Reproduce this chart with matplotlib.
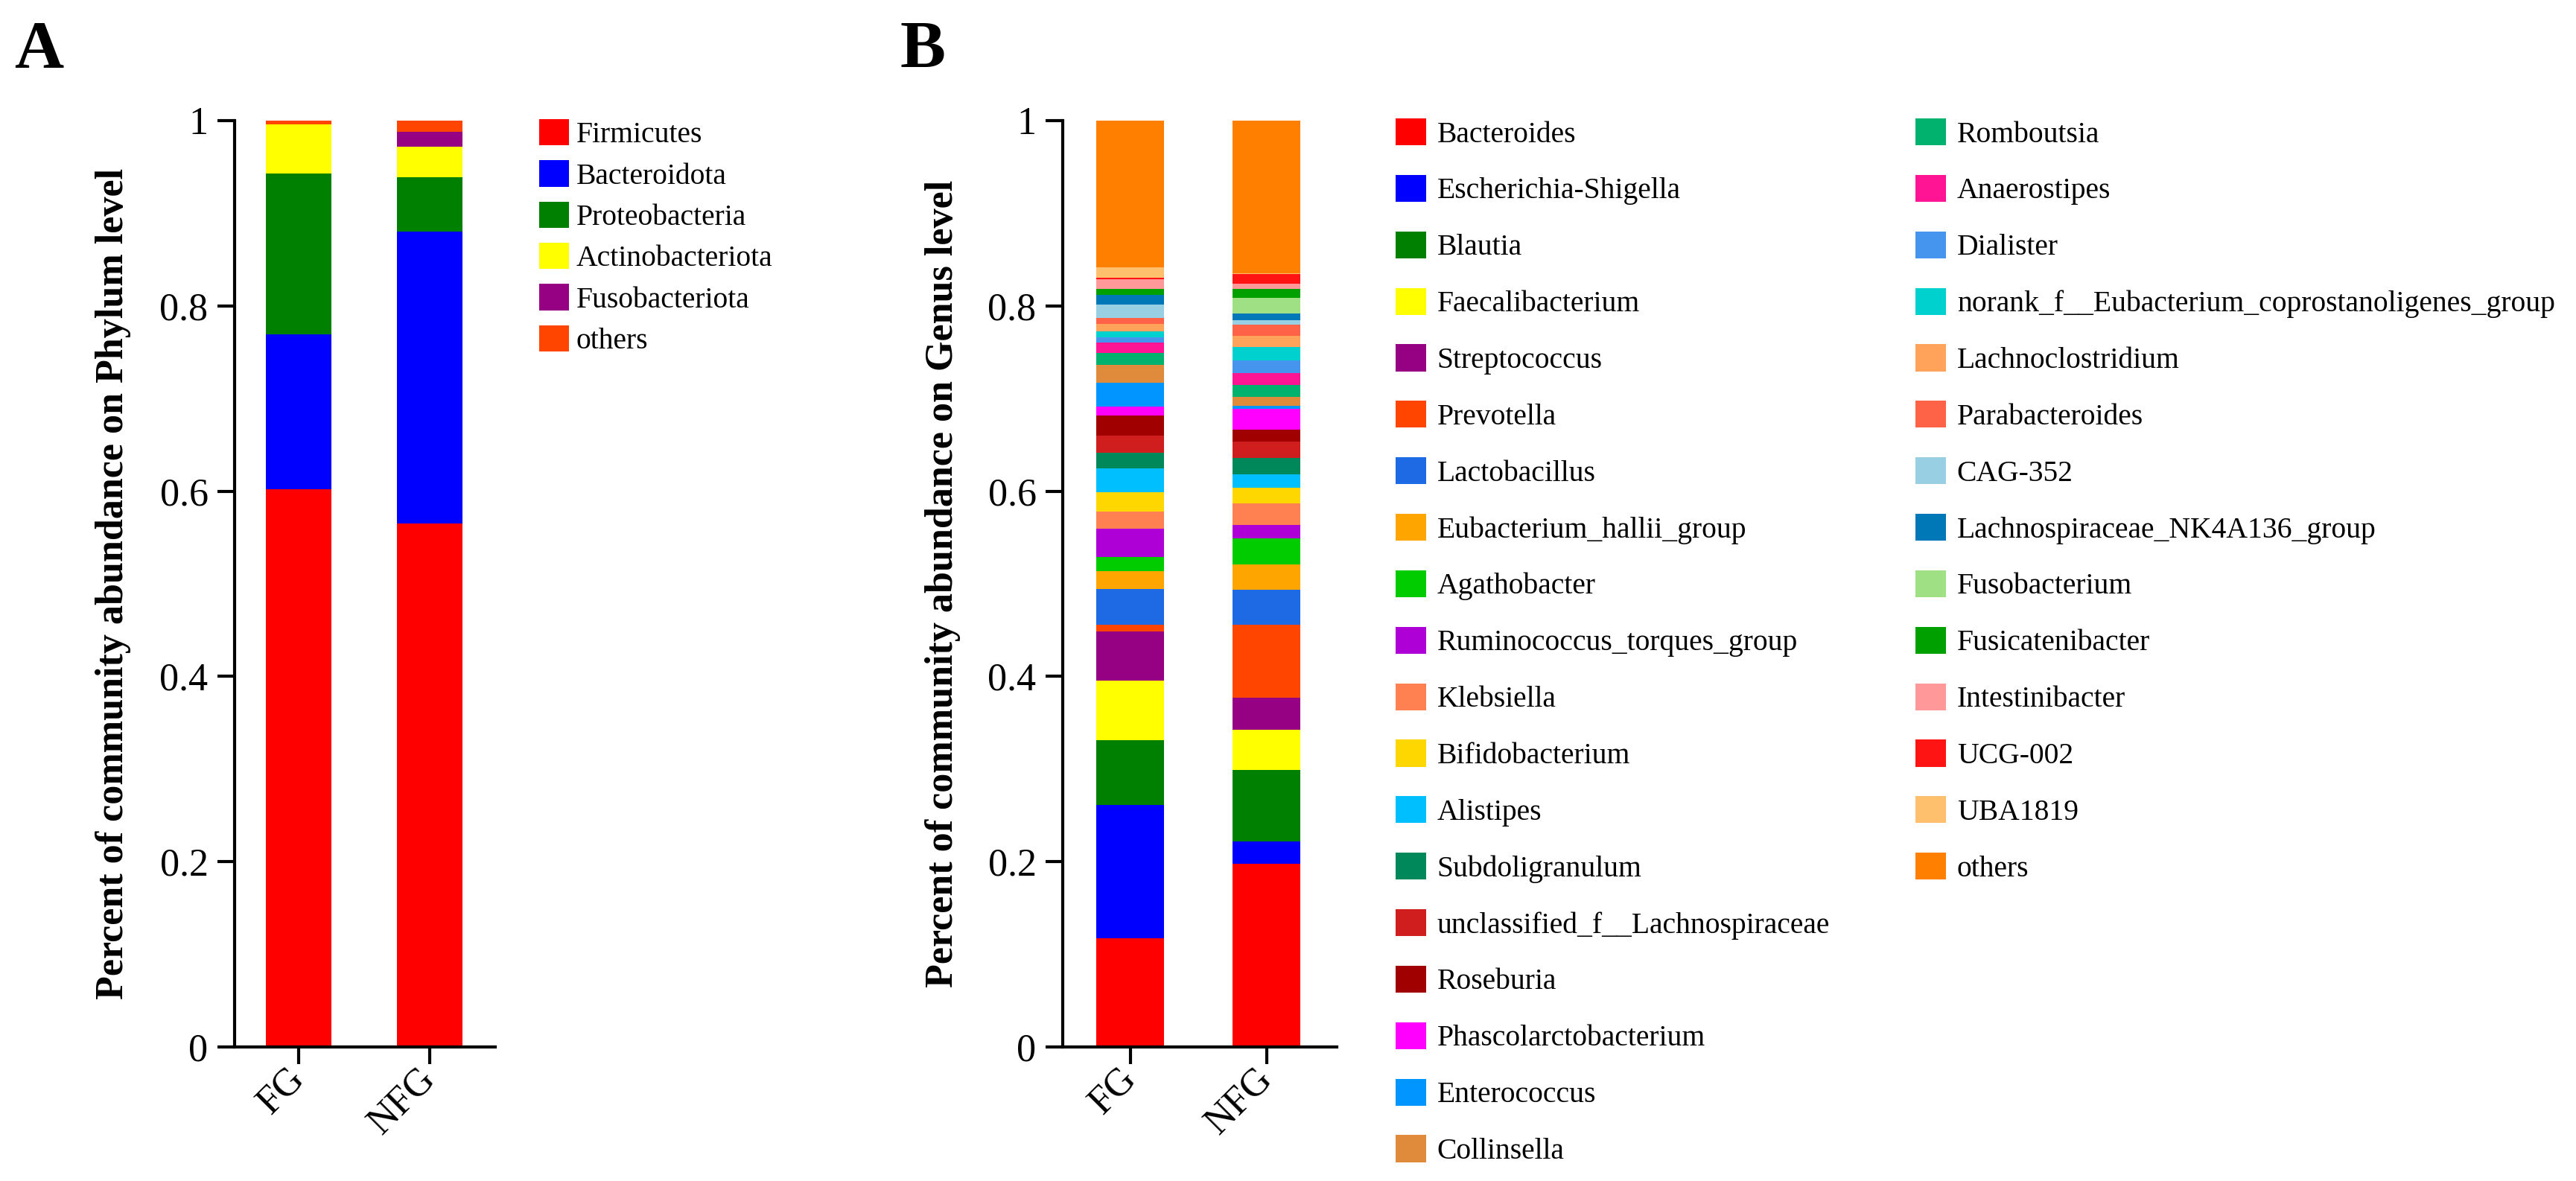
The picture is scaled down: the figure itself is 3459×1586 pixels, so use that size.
import matplotlib
matplotlib.use('Agg')
import matplotlib.pyplot as plt
from matplotlib.patches import Patch

plt.rcParams['font.family'] = 'serif'
plt.rcParams['font.serif'] = ['Liberation Serif', 'DejaVu Serif']

groups = ['FG', 'NFG']

phylum_names = ['Firmicutes', 'Bacteroidota', 'Proteobacteria', 'Actinobacteriota',
                'Fusobacteriota', 'others']
phylum_fg = [0.602, 0.167, 0.174, 0.053, 0.0, 0.004]
phylum_nfg = [0.565, 0.315, 0.059, 0.033, 0.016, 0.012]
phylum_colors = ['#FF0000', '#0000FF', '#008000', '#FFFF00', '#960082', '#FF4500']

genus_names = ['Bacteroides', 'Escherichia-Shigella', 'Blautia', 'Faecalibacterium',
               'Streptococcus', 'Prevotella', 'Lactobacillus', 'Eubacterium_hallii_group',
               'Agathobacter', 'Ruminococcus_torques_group', 'Klebsiella', 'Bifidobacterium',
               'Alistipes', 'Subdoligranulum', 'unclassified_f__Lachnospiraceae', 'Roseburia',
               'Phascolarctobacterium', 'Enterococcus', 'Collinsella',
               'Romboutsia', 'Anaerostipes', 'Dialister',
               'norank_f__Eubacterium_coprostanoligenes_group', 'Lachnoclostridium',
               'Parabacteroides', 'CAG-352', 'Lachnospiraceae_NK4A136_group', 'Fusobacterium',
               'Fusicatenibacter', 'Intestinibacter', 'UCG-002', 'UBA1819', 'others']
genus_fg = [0.117, 0.1445, 0.070, 0.064, 0.0532, 0.0072, 0.0383, 0.0195, 0.0152, 0.0303,
            0.0187, 0.0209, 0.0259, 0.0171, 0.0182, 0.0214, 0.0102, 0.0257, 0.0187,
            0.0128, 0.0115, 0.0059, 0.0062, 0.008, 0.0067, 0.0142, 0.0104, 0.0,
            0.007, 0.0104, 0.0016, 0.011, 0.1583]
genus_nfg = [0.1974, 0.0243, 0.0776, 0.0431, 0.0343, 0.0787, 0.038, 0.0275, 0.0283, 0.0144,
             0.023, 0.0174, 0.0139, 0.0182, 0.0171, 0.0134, 0.0225, 0.003, 0.0099,
             0.0128, 0.0126, 0.0139, 0.0144, 0.0118, 0.012, 0.0051, 0.007, 0.0171,
             0.0099, 0.0054, 0.0102, 0.0008, 0.1651]
genus_colors = ['#FF0000', '#0000FF', '#008000', '#FFFF00', '#960082', '#FF4500', '#1E6AE5',
                '#FFA500', '#00CC00', '#AE00D6', '#FF8050', '#FFD700', '#00BFFF', '#00885A',
                '#D01E1E', '#A00000', '#FF00FF', '#0095FF', '#E08A3C',
                '#00B26E', '#FF1493', '#4595EE', '#00D0CE', '#FFA35A', '#FF6347', '#98CFE3',
                '#0077B6', '#9FE085', '#00A000', '#FF9999', '#FF1414', '#FFC06E', '#FF8000']

W, H = 3459, 1586
fig = plt.figure(figsize=(W / 300, H / 300), dpi=300)


def stacked_panel(rect, fg, nfg, colors, xlim, ylabel, label_x):
    ax = fig.add_axes(rect)
    bottom = [0.0, 0.0]
    for a, b, c in zip(fg, nfg, colors):
        ax.bar([0, 1], [a, b], 0.5, bottom=bottom, color=c, linewidth=0)
        bottom = [bottom[0] + a, bottom[1] + b]
    ax.set_xlim(*xlim)
    ax.set_ylim(0, 1)
    for s in ['top', 'right']:
        ax.spines[s].set_visible(False)
    for s in ['left', 'bottom']:
        ax.spines[s].set_linewidth(1.0)
    ax.tick_params(direction='out', length=5.5, width=1.0, labelsize=12.5, pad=3)
    ax.set_yticks([0, 0.2, 0.4, 0.6, 0.8, 1.0])
    ax.set_yticklabels(['0', '0.2', '0.4', '0.6', '0.8', '1'])
    ax.set_xticks([0, 1])
    ax.set_xticklabels(groups, rotation=45, ha='right', va='center', rotation_mode='anchor')
    ax.set_ylabel(ylabel, fontsize=12.5, fontweight='bold')
    ax.yaxis.set_label_coords(label_x, 0.5)
    return ax


bot = (H - 1406) / H
top = (H - 162) / H

axA = stacked_panel([315 / W, bot, 350 / W, top - bot], phylum_fg, phylum_nfg, phylum_colors,
                    (-0.49, 1.5), 'Percent of community abundance on Phylum level', -0.397)
axB = stacked_panel([1427 / W, bot, 368 / W, top - bot], genus_fg, genus_nfg, genus_colors,
                    (-0.495, 1.516), 'Percent of community abundance on Genus level', -0.372)

handlesA = [Patch(facecolor=c, edgecolor='none') for c in phylum_colors]
axA.legend(handlesA, phylum_names, loc='upper left', bbox_to_anchor=(724 / W, 1 - 160 / H),
           bbox_transform=fig.transFigure, frameon=False, fontsize=9.5, handlelength=1.0,
           handleheight=1.0, handletextpad=0.25, labelspacing=0.38, borderpad=0,
           borderaxespad=0)

handlesB = [Patch(facecolor=c, edgecolor='none') for c in genus_colors]
legB1 = axB.legend(handlesB[:19], genus_names[:19], loc='upper left',
                   bbox_to_anchor=(1874 / W, 1 - 159 / H), bbox_transform=fig.transFigure,
                   frameon=False, fontsize=9.5, handlelength=1.03, handleheight=1.03,
                   handletextpad=0.38, labelspacing=0.89, borderpad=0, borderaxespad=0)
axB.add_artist(legB1)
axB.legend(handlesB[19:], genus_names[19:], loc='upper left',
           bbox_to_anchor=(2572 / W, 1 - 159 / H), bbox_transform=fig.transFigure,
           frameon=False, fontsize=9.5, handlelength=1.03, handleheight=1.03,
           handletextpad=0.38, labelspacing=0.89, borderpad=0, borderaxespad=0)

fig.text(19 / W, 1 - 91 / H, 'A', fontsize=22, fontweight='bold', ha='left', va='baseline')
fig.text(1209 / W, 1 - 91 / H, 'B', fontsize=22, fontweight='bold', ha='left', va='baseline')

fig.savefig('out.png', dpi=300)
